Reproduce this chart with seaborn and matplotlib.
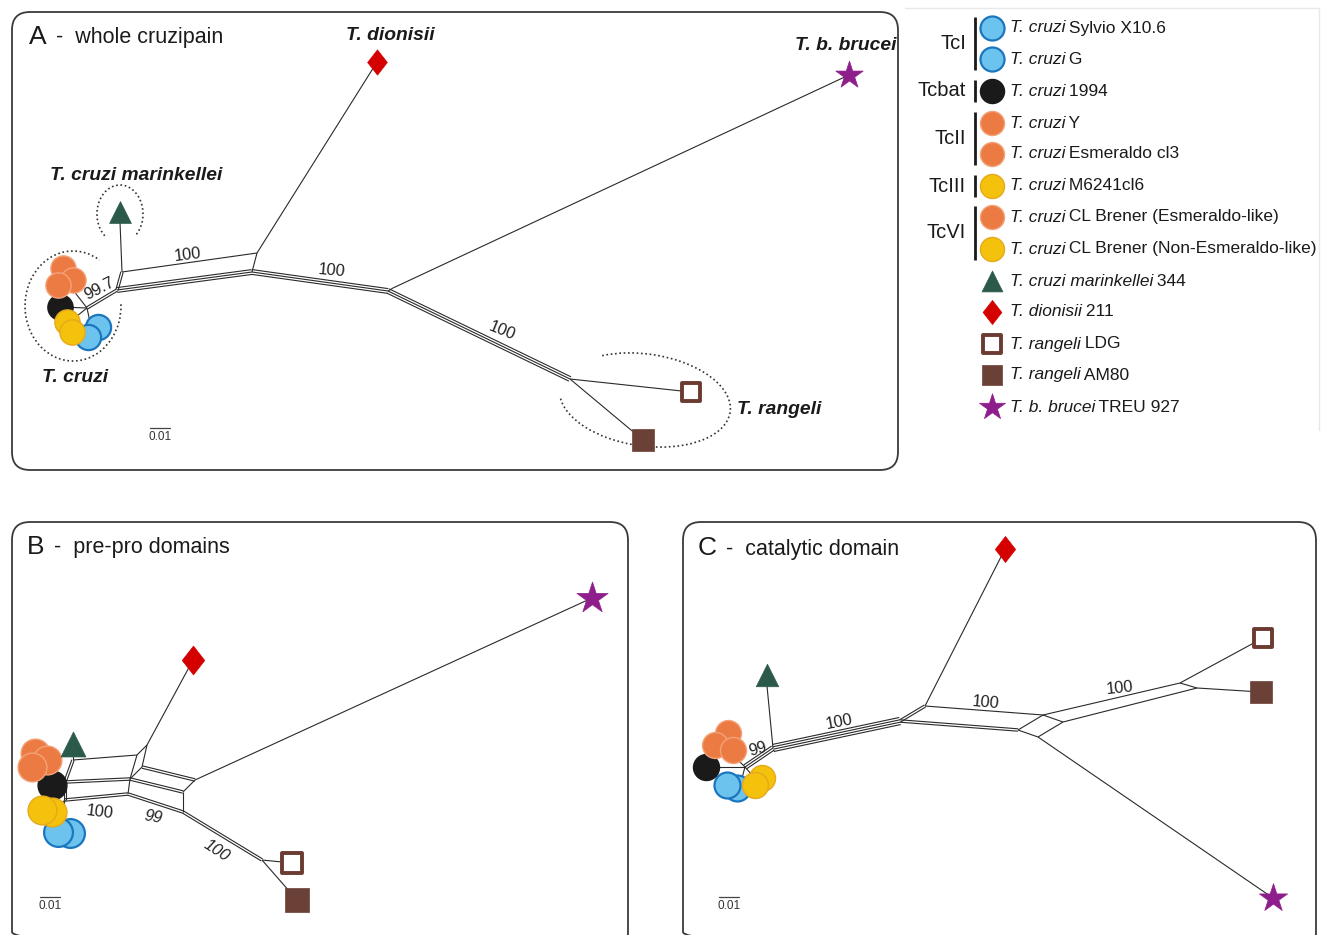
import numpy as np
import matplotlib
matplotlib.use("Agg")
import matplotlib.pyplot as plt
import seaborn as sns
from matplotlib import font_manager
from matplotlib.patches import FancyBboxPatch, Arc
from matplotlib.path import Path

# ---------------------------------------------------------------- taxa
TAXA = ["Sylvio X10.6", "G", "1994", "Y", "Esmeraldo cl3", "M6241cl6",
        "CL Brener (Esmeraldo-like)", "CL Brener (Non-Esmeraldo-like)",
        "marinkellei 344", "dionisii 211", "rangeli LDG", "rangeli AM80",
        "brucei TREU 927"]
TAXON_STYLE = ["TcI", "TcI", "Tcbat", "TcII", "TcII", "TcIII", "TcII", "TcIII",
               "marinkellei", "dionisii", "rangeli_open", "rangeli_fill", "brucei"]

# legend rows: italic part, plain part, marker style
LEGEND_ITALIC = ["T. cruzi", "T. cruzi", "T. cruzi", "T. cruzi", "T. cruzi", "T. cruzi",
                 "T. cruzi", "T. cruzi", "T. cruzi marinkellei", "T. dionisii",
                 "T. rangeli", "T. rangeli", "T. b. brucei"]
LEGEND_PLAIN = [" Sylvio X10.6", " G", " 1994", " Y", " Esmeraldo cl3", " M6241cl6",
                " CL Brener (Esmeraldo-like)", " CL Brener (Non-Esmeraldo-like)",
                " 344", " 211", " LDG", " AM80", " TREU 927"]
LEGEND_STYLE = ["TcI", "TcI", "Tcbat", "TcII", "TcII", "TcIII", "TcII", "TcIII",
                "marinkellei", "dionisii", "rangeli_open", "rangeli_fill", "brucei"]
DTU_GROUPS = ["TcI", "Tcbat", "TcII", "TcIII", "TcVI"]
DTU_ROWS = [(0, 1), (2, 2), (3, 4), (5, 5), (6, 7)]

# ---------------------------------------------------------------- panel A
A_X = [98, 88, 60, 63, 73, 67, 58, 72, 120, 377, 691, 643, 849]
A_Y = [327, 337, 307, 268, 280, 322, 285, 332, 212, 62, 392, 440, 75]
A_INNER = {"hub": (87, 308), "n1": (117, 290), "n2": (122, 272), "n3": (257, 253),
           "n4": (252, 272), "n5": (388, 291), "n5b": (393, 288), "n6": (570, 379),
           "tri": (120, 222), "o": (73, 290), "y": (72, 320), "b": (90, 322)}
A_EDGES = [("hub", "n1", 2), ("n1", "n2", 2), ("n2", "tri", 1), ("n2", "n3", 1),
           ("n1", "n4", 3), ("n3", "n4", 1), ("n3", "dionisii 211", 1),
           ("n4", "n5", 3), ("n5", "n5b", 1), ("n5b", "brucei TREU 927", 1),
           ("n5", "n6", 3), ("n6", "rangeli LDG", 1), ("n6", "rangeli AM80", 1),
           ("hub", "1994", 1), ("hub", "o", 1), ("hub", "y", 1), ("hub", "b", 1)]
A_SUPPORT = [("100", 188, 255, 7, "normal"), ("99.7", 99, 289, 27, "normal"),
             ("100", 332, 271, -5, "normal"), ("100", 502, 331, -22, "normal")]

# ---------------------------------------------------------------- panel B
B_X = [70, 58, 52, 35, 47, 52, 32, 42, 73, 193, 292, 297, 592]
B_Y = [833, 832, 785, 753, 760, 812, 767, 810, 744, 660, 863, 900, 598]
B_INNER = {"tl": (73, 760), "lm": (65, 782), "lb": (65, 800), "tr": (137, 755),
           "mr": (130, 779), "br": (128, 794), "dj": (147, 745), "rtl": (142, 767),
           "rt": (195, 780), "rm": (183, 792), "rb": (183, 812), "ra": (262, 860),
           "tri": (73, 752), "y": (60, 805), "b": (62, 818)}
B_EDGES = [("lm", "tl", 2), ("tl", "tri", 1), ("tl", "tr", 1), ("lm", "mr", 2),
           ("lb", "br", 2), ("lm", "lb", 2), ("tr", "mr", 1), ("mr", "br", 1),
           ("tr", "dj", 1), ("dj", "dionisii 211", 1), ("dj", "rtl", 1),
           ("rtl", "mr", 1), ("rtl", "rt", 2), ("mr", "rm", 2), ("br", "rb", 2),
           ("rt", "rm", 1), ("rm", "rb", 1), ("rt", "brucei TREU 927", 1),
           ("rb", "ra", 2), ("ra", "rangeli LDG", 1), ("ra", "rangeli AM80", 1),
           ("lm", "1994", 1), ("lb", "y", 1), ("lb", "b", 1)]
B_SUPPORT = [("100", 100, 812, -7, "normal"), ("99", 153, 817, -10, "italic"),
             ("100", 217, 851, -33, "italic")]

# ---------------------------------------------------------------- panel C
C_X = [737, 727, 706, 728, 715, 762, 733, 755, 767, 1005, 1263, 1261, 1273]
C_Y = [788, 785, 767, 733, 745, 778, 750, 785, 675, 549, 638, 692, 898]
C_INNER = {"hub": (745, 767), "c1": (773, 748), "c2": (900, 721), "c3": (925, 706),
           "c4": (1043, 715), "c5": (1018, 730), "c6": (1063, 722), "c7": (1038, 737),
           "c8": (1180, 683), "c9": (1197, 688), "tri": (767, 686),
           "o": (735, 757), "b": (742, 778), "y": (752, 775)}
C_EDGES = [("hub", "c1", 3), ("c1", "tri", 1), ("c1", "c2", 4), ("c2", "c3", 2),
           ("c3", "dionisii 211", 1), ("c3", "c4", 1), ("c2", "c5", 2),
           ("c4", "c6", 1), ("c5", "c7", 1), ("c6", "c7", 1), ("c4", "c5", 1),
           ("c4", "c8", 1), ("c6", "c9", 1), ("c8", "c9", 1),
           ("c8", "rangeli LDG", 1), ("c9", "rangeli AM80", 1),
           ("c7", "brucei TREU 927", 1),
           ("hub", "1994", 1), ("hub", "o", 1), ("hub", "b", 1), ("hub", "y", 1)]
C_SUPPORT = [("99", 758, 749, 16, "normal"), ("100", 839, 722, 11, "normal"),
             ("100", 986, 703, -5, "normal"), ("100", 1120, 688, 6, "normal")]

# ---------------------------------------------------------------- styling
sns.set_theme(style="white")
installed = {f.name for f in font_manager.fontManager.ttflist}
if "Liberation Sans Narrow" in installed:
    plt.rcParams["font.family"] = ["Liberation Sans Narrow", "DejaVu Sans"]
    FS = 1.12
else:
    plt.rcParams["font.family"] = ["Liberation Sans", "DejaVu Sans"]
    FS = 1.0

LINE = "#2a2a2a"
DIAMOND = Path([(0, 1), (0.78, 0), (0, -1), (-0.78, 0), (0, 1)],
               [Path.MOVETO, Path.LINETO, Path.LINETO, Path.LINETO, Path.CLOSEPOLY])
MARKERS = {
    "TcI": dict(marker="o", color="#6cc4ee", edgecolor="#1b76bd", linewidth=1.6),
    "Tcbat": dict(marker="o", color="#1a1a1a", edgecolor="#1a1a1a", linewidth=1.0),
    "TcII": dict(marker="o", color="#ec7a43", edgecolor="#f3a37a", linewidth=1.0),
    "TcIII": dict(marker="o", color="#f4c20d", edgecolor="#e6a91c", linewidth=1.0),
    "marinkellei": dict(marker="^", color="#2b5a4b", edgecolor="#2b5a4b", linewidth=0.5),
    "dionisii": dict(marker=DIAMOND, color="#d40000", edgecolor="#d40000", linewidth=0.5),
    "rangeli_open": dict(marker="s", color="white", edgecolor="#6b3b31", linewidth=2.8),
    "rangeli_fill": dict(marker="s", color="#6b4036", edgecolor="#6b4036", linewidth=0.5),
    "brucei": dict(marker="*", color="#8e1e8b", edgecolor="#8e1e8b", linewidth=0.5),
}
SIZE_FACTOR = {"TcI": 1.0, "Tcbat": 1.0, "TcII": 1.0, "TcIII": 1.0, "marinkellei": 0.75,
               "dionisii": 1.0, "rangeli_open": 0.5, "rangeli_fill": 0.75, "brucei": 1.3}

fig = plt.figure(figsize=(13.24, 9.35), dpi=100)
ax = fig.add_axes([0, 0, 1, 1])
ax.set_xlim(0, 1324)
ax.set_ylim(935, 0)
ax.axis("off")
renderer = fig.canvas.get_renderer()


def panel_box(x0, y0, x1, y1):
    ax.add_patch(FancyBboxPatch((x0, y0), x1 - x0, y1 - y0,
                                boxstyle="round,pad=0,rounding_size=18",
                                fc="none", ec="#3a3a3a", lw=1.3, zorder=1))


def draw_network(xs, ys, inner, edges):
    nodes = dict(inner)
    for name, x, y in zip(TAXA, xs, ys):
        nodes[name] = (x, y)
    for a, b, n in edges:
        p = np.array(nodes[a], float)
        q = np.array(nodes[b], float)
        d = q - p
        nrm = np.array([-d[1], d[0]]) / np.hypot(*d)
        for k in range(n):
            off = (k - (n - 1) / 2) * 2.4
            ax.plot([p[0] + nrm[0] * off, q[0] + nrm[0] * off],
                    [p[1] + nrm[1] * off, q[1] + nrm[1] * off],
                    color=LINE, lw=0.8, solid_capstyle="butt", zorder=2)


def draw_taxa(xs, ys, size):
    for x, y, st in zip(xs, ys, TAXON_STYLE):
        sns.scatterplot(x=[x], y=[y], ax=ax, s=size * SIZE_FACTOR[st], zorder=4,
                        legend=False, **MARKERS[st])


def draw_support(items):
    for txt, x, y, rot, style in items:
        ax.text(x, y, txt, fontsize=11.8 * FS, rotation=rot, style=style,
                ha="center", va="center", color="#222222", zorder=5,
                rotation_mode="anchor")


def scale_bar(x, y):
    ax.plot([x - 10, x + 10], [y - 9, y - 9], color="#444444", lw=0.9, zorder=3)
    ax.text(x, y, "0.01", fontsize=8.5 * FS, ha="center", va="center", color="#333333")


def title(x, y, letter, rest):
    t = ax.text(x, y, letter, fontsize=19 * FS, ha="left", va="center", color="#1a1a1a")
    w = t.get_window_extent(renderer).width
    ax.text(x + w + 9, y + 1, "-  " + rest, fontsize=15.5 * FS, ha="left", va="center",
            color="#1a1a1a")


def mixed_text(x, y, parts, size):
    for txt, style in parts:
        t = ax.text(x, y, txt, style=style, fontsize=size, ha="left", va="center",
                    color="#1a1a1a")
        x += t.get_window_extent(renderer).width - 1.0


# ---------------------------------------------------------------- panels
panel_box(12, 12, 898, 470)
panel_box(12, 522, 628, 950)
panel_box(683, 522, 1316, 950)

title(29, 37, "A", "whole cruzipain")
title(27, 547, "B", "pre-pro domains")
title(698, 548, "C", "catalytic domain")

for xs, ys, inner, edges, sup, size in [
        (A_X, A_Y, A_INNER, A_EDGES, A_SUPPORT, 330),
        (B_X, B_Y, B_INNER, B_EDGES, B_SUPPORT, 430),
        (C_X, C_Y, C_INNER, C_EDGES, C_SUPPORT, 350)]:
    draw_network(xs, ys, inner, edges)
    draw_taxa(xs, ys, size)
    draw_support(sup)

scale_bar(160, 437)
scale_bar(50, 906)
scale_bar(729, 906)

# clade outlines in panel A
dots = dict(color="#333333", lw=1.2, ls=(0, (1, 1.6)), zorder=3)
ax.add_patch(Arc((120, 214), 46, 58, theta1=125, theta2=415, **dots))
ax.add_patch(Arc((73, 306), 96, 110, theta1=-2, theta2=300, **dots))
ax.add_patch(Arc((645, 400), 172, 92, angle=8, theta1=218, theta2=533, **dots))

lab = dict(fontsize=13.9 * FS, weight="bold", style="italic", ha="center", va="center",
           color="#1a1a1a")
ax.text(390, 35, "T. dionisii", **lab)
ax.text(846, 45, "T. b. brucei", **lab)
ax.text(136, 175, "T. cruzi marinkellei", **lab)
ax.text(75, 378, "T. cruzi", **lab)
ax.text(779, 410, "T. rangeli", **lab)

# ---------------------------------------------------------------- legend
LEG_Y = [28, 59, 91, 123, 154, 186, 217, 249, 281, 312, 344, 375, 407]
for y, it, pl, st in zip(LEG_Y, LEGEND_ITALIC, LEGEND_PLAIN, LEGEND_STYLE):
    sns.scatterplot(x=[992], y=[y], ax=ax, s=300 * SIZE_FACTOR[st], zorder=4,
                    legend=False, **MARKERS[st])
    mixed_text(1010, y, [(it, "italic"), (pl, "normal")], 12.5 * FS)

for name, (r0, r1) in zip(DTU_GROUPS, DTU_ROWS):
    ya, yb = LEG_Y[r0] - 11, LEG_Y[r1] + 11
    ax.plot([975, 975], [ya, yb], color="#1a1a1a", lw=2.0, solid_capstyle="butt")
    ax.text(966, (ya + yb) / 2, name, fontsize=14.5 * FS, ha="right", va="center",
            color="#1a1a1a")

ax.plot([905, 1319, 1319], [8, 8, 430], color="#e8e8e8", lw=1.0, zorder=0)

fig.savefig("out.png", dpi=100)
